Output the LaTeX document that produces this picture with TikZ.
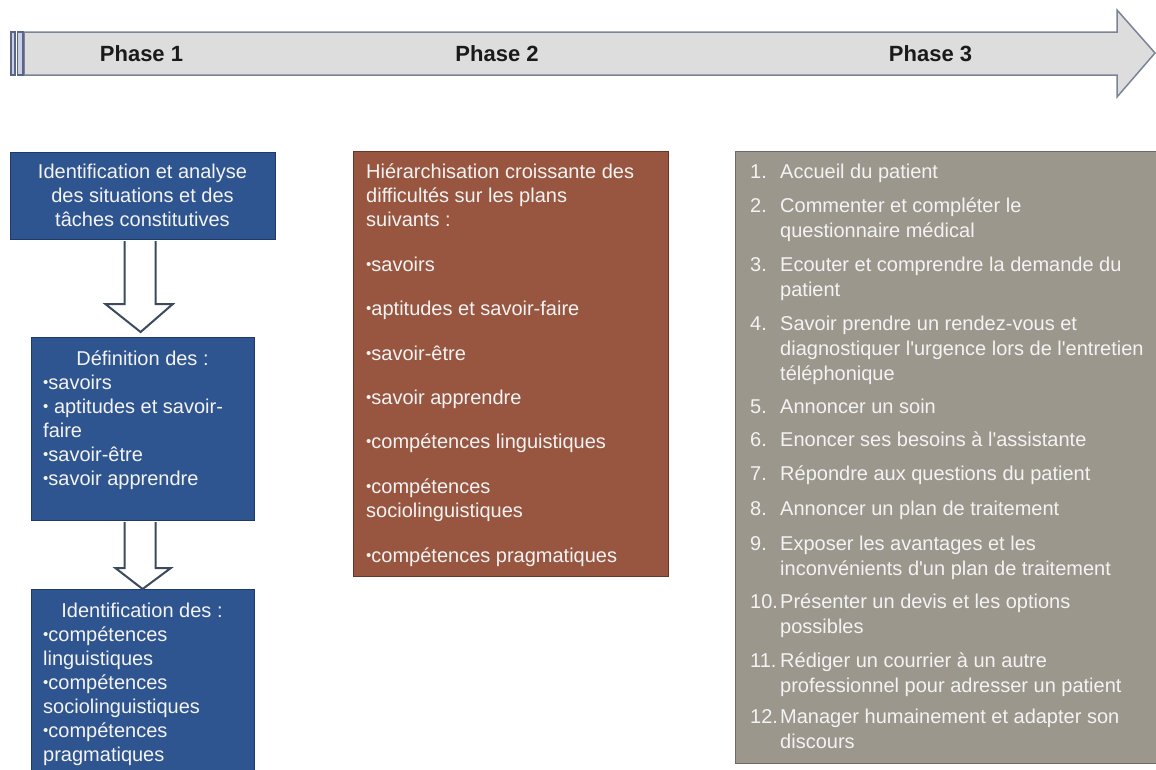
\documentclass[tikz,border=0pt]{standalone}
\usepackage{graphicx}
\usepackage{fontspec}
\setmainfont{Liberation Sans}
\usetikzlibrary{calc}

\definecolor{barfill}{HTML}{DDDDDD}
\definecolor{barline}{HTML}{7A8496}
\definecolor{stripefill}{HTML}{C9CFE8}
\definecolor{stripeline}{HTML}{5A6684}
\definecolor{phasetext}{HTML}{1A1A1A}
\definecolor{boxblue}{HTML}{2F5590}
\definecolor{boxblueedge}{HTML}{1F3A66}
\definecolor{boxbrown}{HTML}{985640}
\definecolor{boxbrownedge}{HTML}{6A3526}
\definecolor{boxgray}{HTML}{9C978D}
\definecolor{boxgrayedge}{HTML}{6E6A63}
\definecolor{boxtext}{HTML}{F3F3F3}
\definecolor{arrowedge}{HTML}{3B4A5E}

% small list bullet and straight apostrophe
\newcommand\bul{\raisebox{0.12ex}{\scalebox{0.75}{•}}}
\newcommand\apos{\textquotesingle}

\tikzset{
  phasebar/.style={fill=barfill, draw=barline, line width=1.5pt, line join=miter},
  stripe/.style={fill=stripefill, draw=stripeline, line width=1.2pt},
  phaselabel/.style={font=\fontsize{22}{26}\selectfont\bfseries, text=phasetext, anchor=base, inner sep=0pt},
  panel/.style={anchor=north west, inner sep=0pt, line width=1.2pt},
  bluebox/.style={panel, fill=boxblue, draw=boxblueedge},
  brownbox/.style={panel, fill=boxbrown, draw=boxbrownedge},
  graybox/.style={panel, fill=boxgray, draw=boxgrayedge},
  ltxt/.style={font=\fontsize{20}{24}\selectfont, text=boxtext, anchor=base west, inner sep=0pt},
  ctxt/.style={font=\fontsize{20}{24}\selectfont, text=boxtext, anchor=base, inner sep=0pt},
  hollow/.style={fill=white, draw=arrowedge, line width=2pt, line join=miter}
}

\begin{document}
\begin{tikzpicture}[x=1pt, y=-1pt]
  \fill[white] (0,0) rectangle (1156,769);
  \useasboundingbox (0,0) rectangle (1156,769);

  % timeline arrow with its two end stripes
  \draw[phasebar] (24,32) -- (1117,32) -- (1117,10) -- (1155,53) -- (1117,97)
        -- (1117,75) -- (24,75) -- cycle;
  \draw[stripe] (11,32) rectangle (15,75);
  \draw[stripe] (17.5,32) rectangle (23,75);
  \node[phaselabel] (ph1) at (141.5,61) {Phase 1};
  \node[phaselabel] (ph2) at (497,61) {Phase 2};
  \node[phaselabel] (ph3) at (930.5,61) {Phase 3};

  % phase 1 column
  \node[bluebox, minimum width=265pt, minimum height=87pt] (b1) at (10,152) {};
  \node[bluebox, minimum width=223pt, minimum height=183pt] (b2) at (30.5,337) {};
  \node[bluebox, minimum width=223pt, minimum height=190pt] (b3) at (30.5,589) {};

  \draw[hollow] ($(b1.south)+(-18.5,1)$) -- ($(b1.south)+(-18.5,64)$)
        -- ($(b1.south)+(-37.5,64)$) -- ($(b2.north)+(-2,-5)$)
        -- ($(b1.south)+(29.5,64)$) -- ($(b1.south)+(12.5,64)$)
        -- ($(b1.south)+(12.5,1)$);
  \draw[hollow] ($(b2.south)+(-18,1)$) -- ($(b2.south)+(-18,47)$)
        -- ($(b2.south)+(-27,47)$) -- ($(b3.north)+(0,0)$)
        -- ($(b2.south)+(28,47)$) -- ($(b2.south)+(13,47)$)
        -- ($(b2.south)+(13,1)$);

  \foreach \yy/\lbl [count=\k] in {178/Identification et analyse,
      202/des situations et des, 226/tâches constitutives}
    \node[ctxt] (b1l\k) at (142.5,\yy) {\lbl};

  \node[ctxt] (b2h) at (142.5,365) {Définition des :};
  \foreach \yy/\lbl [count=\k] in {389/\bul savoirs, 413/\bul{} aptitudes et savoir-,
      437/faire, 461/\bul savoir-être, 485/\bul savoir apprendre}
    \node[ltxt] (b2l\k) at (43,\yy) {\lbl};

  \node[ctxt] (b3h) at (142,617) {Identification des :};
  \foreach \yy/\lbl [count=\k] in {641/\bul compétences, 665/linguistiques,
      689/\bul compétences, 713/sociolinguistiques, 737/\bul compétences, 761/pragmatiques}
    \node[ltxt] (b3l\k) at (43,\yy) {\lbl};

  % phase 2 column
  \node[brownbox, minimum width=315pt, minimum height=425pt] (m) at (353,151) {};
  \foreach \yy/\lbl [count=\k] in {178/Hiérarchisation croissante des,
      202/difficultés sur les plans, 226/suivants :, 271/\bul savoirs,
      315/\bul aptitudes et savoir-faire, 360/\bul savoir-être, 404/\bul savoir apprendre,
      448/\bul compétences linguistiques, 493/\bul compétences, 517/sociolinguistiques,
      562/\bul compétences pragmatiques}
    \node[ltxt] (ml\k) at (366,\yy) {\lbl};

  % phase 3 column
  \node[graybox, minimum width=430pt, minimum height=612pt] (r) at (735,151) {};
  \foreach \yy/\num [count=\k] in {178/1., 212/2., 271/3., 330/4., 413/5., 446/6.,
      480/7., 515/8., 550/9., 608/10., 667/11., 723/12.}
    \node[ltxt] (rn\k) at (750,\yy) {\num};
  \foreach \yy/\lbl [count=\k] in {178/Accueil du patient,
      212/Commenter et compléter le, 237/questionnaire médical,
      271/Ecouter et comprendre la demande du, 296/patient,
      330/Savoir prendre un rendez-vous et,
      355/diagnostiquer l\apos urgence lors de l\apos entretien, 380/téléphonique,
      413/Annoncer un soin, 446/Enoncer ses besoins à l\apos assistante,
      480/Répondre aux questions du patient, 515/Annoncer un plan de traitement,
      550/Exposer les avantages et les, 575/inconvénients d\apos un plan de traitement,
      608/Présenter un devis et les options, 633/possibles,
      667/Rédiger un courrier à un autre, 692/professionnel pour adresser un patient,
      723/Manager humainement et adapter son, 748/discours}
    \node[ltxt] (rl\k) at (780,\yy) {\lbl};
\end{tikzpicture}
\end{document}
